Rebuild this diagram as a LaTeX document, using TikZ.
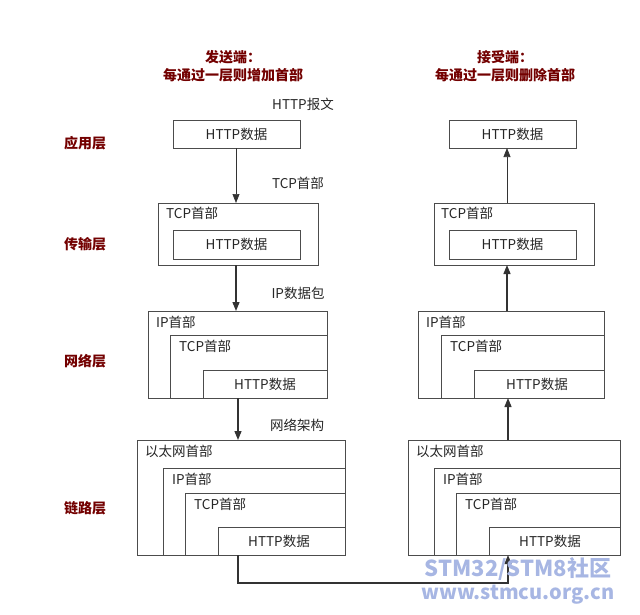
\documentclass[tikz,border=0pt]{standalone}
\usepackage{fontspec}
\setmainfont{Noto Sans CJK SC}
\usetikzlibrary{arrows.meta}
\begin{document}
\begin{tikzpicture}[x=1pt,y=-1pt,
 bx/.style={draw=black!70,line width=0.8pt,fill=white},
 t/.style={font=\fontsize{13.5}{15}\selectfont,text=black!85,inner sep=0pt},
 ly/.style={font=\fontsize{14}{16}\selectfont\bfseries,text=red!45!black,inner sep=0pt},
 ar/.style={draw=black!80,line width=1pt,-{Triangle[length=9pt,width=7pt]}}]
\useasboundingbox (0,0) rectangle (640,614);
\node[ly] (tl1) at (233,57) {发送端：};
\node[ly] (tl2) at (233,75) {每通过一层则增加首部};
\node[ly] (tr1) at (505,57) {接受端：};
\node[ly] (tr2) at (505,75) {每通过一层则删除首部};
\node[ly] (l1) at (85,143) {应用层};
\node[ly] (l2) at (85,244) {传输层};
\node[ly] (l3) at (85,361) {网络层};
\node[ly] (l4) at (85,508) {链路层};
% labels
\node[t] (m1) at (303,104) {HTTP报文};
\node[t] (m2) at (298,183) {TCP首部};
\node[t] (m3) at (298,293) {IP数据包};
\node[t] (m4) at (297,425) {网络架构};
% left column
\draw[bx] (173,120) rectangle (300,148); \node[t] (a1) at (236.5,134) {HTTP数据};
\coordinate (a1b) at (236,148);
\draw[bx] (158,203) rectangle (318,265); \node[t,anchor=west] at (166,213) {TCP首部};
\draw[bx] (173,230) rectangle (300,259); \node[t] at (236.5,244.5) {HTTP数据};
\coordinate (a2t) at (236,203); \coordinate (a2b) at (236,265);
\draw[bx] (148,311) rectangle (327,398); \node[t,anchor=west] at (156,322) {IP首部};
\draw[bx] (170,335) rectangle (327,398); \node[t,anchor=west] at (179,346) {TCP首部};
\draw[bx] (203,370) rectangle (327,398); \node[t] at (265,384) {HTTP数据};
\coordinate (a3t) at (236,311); \coordinate (a3b) at (238,398);
\draw[bx] (137,440) rectangle (345,555); \node[t,anchor=west] at (145,451) {以太网首部};
\draw[bx] (163,468) rectangle (345,555); \node[t,anchor=west] at (172,479) {IP首部};
\draw[bx] (185,493) rectangle (345,555); \node[t,anchor=west] at (194,504) {TCP首部};
\draw[bx] (218,527) rectangle (345,555); \node[t] at (279,541) {HTTP数据};
\coordinate (a4t) at (238,440); \coordinate (a4b) at (238,555);
% right column
\draw[bx] (449,120) rectangle (576,148); \node[t] at (512.5,134) {HTTP数据};
\coordinate (b1b) at (507,148);
\draw[bx] (434,203) rectangle (594,265); \node[t,anchor=west] at (441,213) {TCP首部};
\draw[bx] (449,230) rectangle (576,259); \node[t] at (512.5,244.5) {HTTP数据};
\coordinate (b2t) at (507,203); \coordinate (b2b) at (507,265);
\draw[bx] (418,311) rectangle (604,398); \node[t,anchor=west] at (426,322) {IP首部};
\draw[bx] (441,335) rectangle (604,398); \node[t,anchor=west] at (450,346) {TCP首部};
\draw[bx] (474,370) rectangle (604,398); \node[t] at (537,384) {HTTP数据};
\coordinate (b3t) at (507,311); \coordinate (b3b) at (508,398);
\draw[bx] (408,440) rectangle (620,555); \node[t,anchor=west] at (416,451) {以太网首部};
\draw[bx] (434,468) rectangle (620,555); \node[t,anchor=west] at (443,479) {IP首部};
\draw[bx] (456,493) rectangle (620,555); \node[t,anchor=west] at (465,504) {TCP首部};
\draw[bx] (489,527) rectangle (620,555); \node[t] at (550,541) {HTTP数据};
\coordinate (b4t) at (508,440); \coordinate (b4b) at (508,555);
% arrows
\draw[ar,line width=0.7pt] (a1b) -- (a2t);
\draw[ar,line width=1.3pt] (a2b) -- (a3t);
\draw[ar,line width=1.3pt] (a3b) -- (a4t);
\draw[ar,line width=1.3pt] (a4b) -- (238,583) -- (508,583) -- (b4b);
\draw[ar,line width=1.3pt] (b4t) -- (b3b);
\draw[ar,line width=1.3pt] (b3t) -- (b2b);
\draw[ar,line width=0.7pt] (b2t) -- (b1b);
% watermark
\node[font=\fontsize{22}{24}\selectfont\bfseries,text=cyan!40!blue!35,inner sep=0pt] (w1) at (518,569) {STM32/STM8社区};
\node[font=\fontsize{20}{22}\selectfont\bfseries,text=cyan!40!blue!35,inner sep=0pt] (w2) at (518,595) {www.stmcu.org.cn};
\end{tikzpicture}
\end{document}
